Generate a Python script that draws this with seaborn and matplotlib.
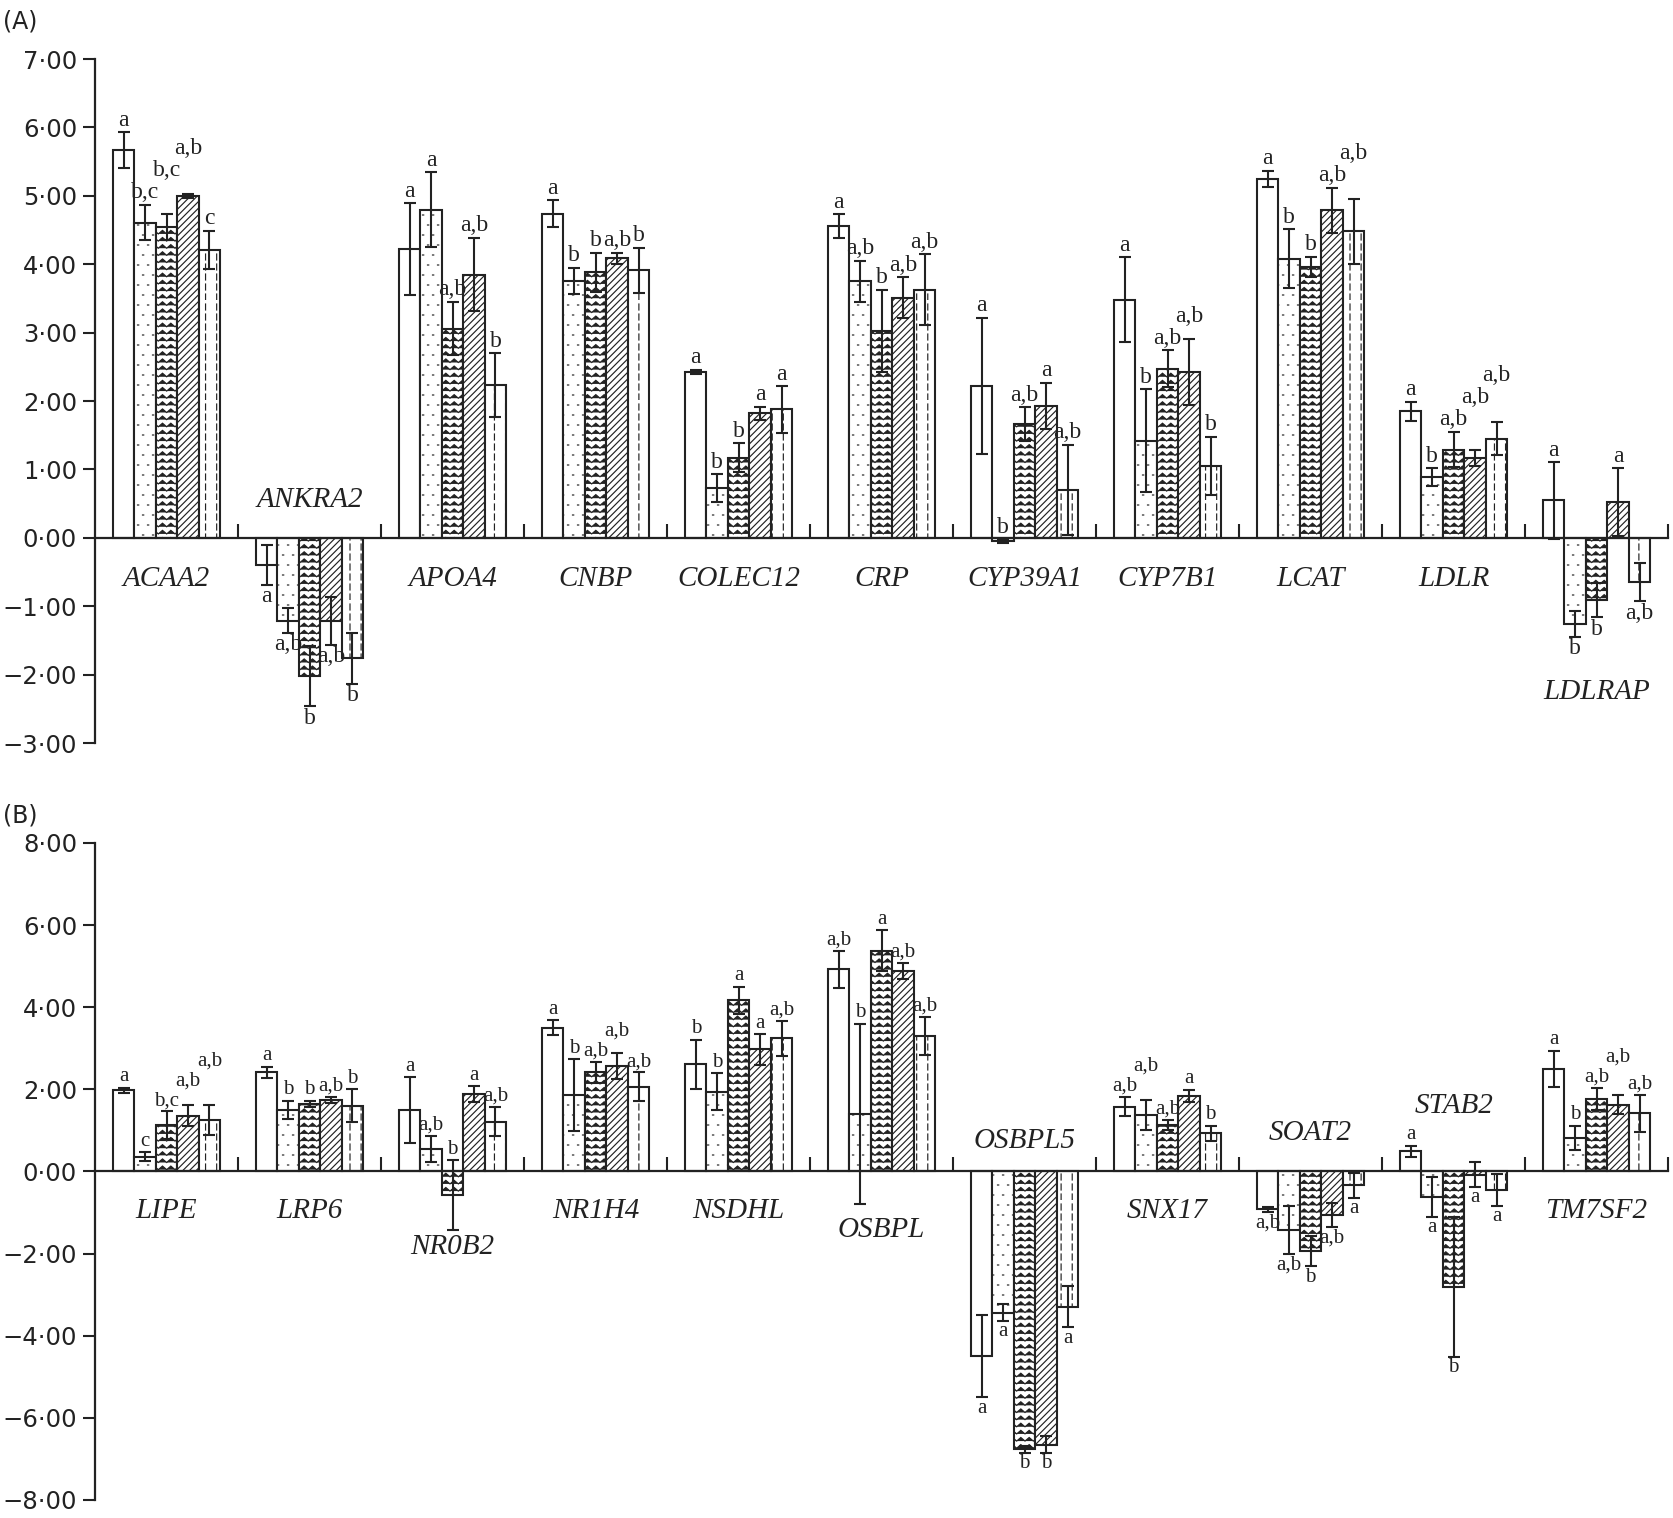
import warnings
import numpy as np
import pandas as pd
import matplotlib
matplotlib.use("Agg")
import matplotlib.pyplot as plt
import matplotlib.hatch as mhatch
from matplotlib.container import BarContainer
from matplotlib.path import Path
from matplotlib.ticker import FuncFormatter
import seaborn as sns

warnings.filterwarnings("ignore")

# ---------------- data ----------------
groups = ["G1", "G2", "G3", "G4", "G5"]

genes_a = ["ACAA2", "ANKRA2", "APOA4", "CNBP", "COLEC12", "CRP",
           "CYP39A1", "CYP7B1", "LCAT", "LDLR", "LDLRAP"]
mean_a = [
    [5.67, 4.61, 4.55, 5.00, 4.21],
    [-0.40, -1.21, -2.02, -1.21, -1.76],
    [4.22, 4.80, 3.06, 3.85, 2.23],
    [4.74, 3.76, 3.88, 4.09, 3.91],
    [2.43, 0.73, 1.17, 1.82, 1.88],
    [4.56, 3.75, 3.03, 3.51, 3.63],
    [2.22, -0.05, 1.66, 1.93, 0.70],
    [3.48, 1.42, 2.47, 2.42, 1.05],
    [5.25, 4.08, 3.96, 4.79, 4.48],
    [1.85, 0.89, 1.29, 1.17, 1.45],
    [0.55, -1.26, -0.91, 0.52, -0.65],
]
err_a = [
    [0.26, 0.26, 0.19, 0.03, 0.28],
    [0.29, 0.18, 0.44, 0.35, 0.37],
    [0.67, 0.55, 0.39, 0.54, 0.47],
    [0.20, 0.19, 0.29, 0.08, 0.33],
    [0.03, 0.20, 0.21, 0.10, 0.34],
    [0.17, 0.30, 0.60, 0.30, 0.52],
    [1.00, 0.03, 0.25, 0.34, 0.66],
    [0.62, 0.75, 0.27, 0.48, 0.43],
    [0.12, 0.43, 0.15, 0.33, 0.48],
    [0.14, 0.13, 0.26, 0.12, 0.24],
    [0.56, 0.19, 0.25, 0.50, 0.28],
]
letters_a = [
    ["a", "b,c", "b,c", "a,b", "c"],
    ["a", "a,b", "b", "a,b", "b"],
    ["a", "a", "a,b", "a,b", "b"],
    ["a", "b", "b", "a,b", "b"],
    ["a", "b", "b", "a", "a"],
    ["a", "a,b", "b", "a,b", "a,b"],
    ["a", "b", "a,b", "a", "a,b"],
    ["a", "b", "a,b", "a,b", "b"],
    ["a", "b", "b", "a,b", "a,b"],
    ["a", "b", "a,b", "a,b", "a,b"],
    ["a", "b", "b", "a", "a,b"],
]

genes_b = ["LIPE", "LRP6", "NR0B2", "NR1H4", "NSDHL", "OSBPL",
           "OSBPL5", "SNX17", "SOAT2", "STAB2", "TM7SF2"]
mean_b = [
    [1.98, 0.36, 1.12, 1.36, 1.26],
    [2.41, 1.50, 1.64, 1.74, 1.60],
    [1.50, 0.54, -0.57, 1.89, 1.21],
    [3.50, 1.86, 2.41, 2.57, 2.06],
    [2.61, 1.94, 4.17, 2.97, 3.24],
    [4.92, 1.40, 5.38, 4.88, 3.30],
    [-4.50, -3.44, -6.77, -6.65, -3.30],
    [1.58, 1.38, 1.13, 1.84, 0.93],
    [-0.92, -1.43, -1.94, -1.06, -0.34],
    [0.49, -0.62, -2.81, -0.08, -0.45],
    [2.50, 0.81, 1.77, 1.63, 1.42],
]
err_b = [
    [0.06, 0.11, 0.34, 0.25, 0.37],
    [0.14, 0.22, 0.08, 0.07, 0.40],
    [0.80, 0.32, 0.85, 0.19, 0.35],
    [0.18, 0.88, 0.26, 0.32, 0.35],
    [0.60, 0.45, 0.33, 0.37, 0.43],
    [0.46, 2.20, 0.49, 0.20, 0.46],
    [1.00, 0.20, 0.08, 0.20, 0.50],
    [0.24, 0.37, 0.12, 0.15, 0.18],
    [0.06, 0.58, 0.37, 0.30, 0.30],
    [0.14, 0.48, 1.70, 0.30, 0.38],
    [0.44, 0.30, 0.27, 0.23, 0.45],
]
letters_b = [
    ["a", "c", "b,c", "a,b", "a,b"],
    ["a", "b", "b", "a,b", "b"],
    ["a", "a,b", "b", "a", "a,b"],
    ["a", "b", "a,b", "a,b", "a,b"],
    ["b", "b", "a", "a", "a,b"],
    ["a,b", "b", "a", "a,b", "a,b"],
    ["a", "a", "b", "b", "a"],
    ["a,b", "a,b", "a,b", "a", "b"],
    ["a,b", "a,b", "b", "a,b", "a"],
    ["a", "a", "b", "a", "a"],
    ["a", "b", "a,b", "a,b", "a,b"],
]

# letters of negative bars that sit above the bar anyway
letters_above = {("CYP39A1", 1), ("NR0B2", 2)}


# ---------------- custom hatches ----------------
class ZigZagHatch(mhatch.HatchPatternBase):
    def __init__(self, hatch, density):
        self.rows = 14 * hatch.count("z")
        self.zigs = 12
        self.k = 2 * self.zigs + 1
        self.num_vertices = self.rows * self.k

    def set_vertices_and_codes(self, vertices, codes):
        xs = np.linspace(0, 1, self.k)
        amp = 0.25 / self.rows
        sign = np.where(np.arange(self.k) % 2 == 0, -1.0, 1.0)
        for r in range(self.rows):
            y0 = (r + 0.5) / self.rows
            s = slice(r * self.k, (r + 1) * self.k)
            vertices[s, 0] = xs
            vertices[s, 1] = y0 + amp * sign
            codes[s] = Path.LINETO
            codes[r * self.k] = Path.MOVETO


class DashHatch(mhatch.HatchPatternBase):
    # vertical dashed lines
    def __init__(self, hatch, density):
        self.cols = 9 * hatch.count("v")
        self.dashes = 10
        self.num_vertices = self.cols * self.dashes * 2

    def set_vertices_and_codes(self, vertices, codes):
        i = 0
        for c in range(self.cols):
            x = (c + 0.5) / self.cols
            for d in range(self.dashes):
                y0 = d / self.dashes
                vertices[i] = (x, y0)
                vertices[i + 1] = (x, y0 + 0.6 / self.dashes)
                codes[i] = Path.MOVETO
                codes[i + 1] = Path.LINETO
                i += 2


class DotHatch(mhatch.HatchPatternBase):
    # sparse staggered dots
    def __init__(self, hatch, density):
        self.cols = 10 * hatch.count("p")
        self.rows = 10 * hatch.count("p")
        self.num_vertices = self.cols * self.rows * 2

    def set_vertices_and_codes(self, vertices, codes):
        i = 0
        for r in range(self.rows):
            y = (r + 0.5) / self.rows
            off = 0.5 if r % 2 else 0.0
            for c in range(self.cols):
                x = ((c + off + 0.25) / self.cols) % 1.0
                vertices[i] = (x, y)
                vertices[i + 1] = (x + 0.012, y)
                codes[i] = Path.MOVETO
                codes[i + 1] = Path.LINETO
                i += 2


mhatch._hatch_types.extend([ZigZagHatch, DashHatch, DotHatch])
hatches = [None, "p", "z", "/////", "v"]

plt.rcParams["hatch.linewidth"] = 0.85
plt.rcParams["font.family"] = "DejaVu Sans"

ink = "#222222"


def fmt(v, pos):
    return f"{v:.2f}".replace(".", "·").replace("-", "−")


def draw_panel(ax, genes, means, errs, letters, ylim, yticks, label_y, letter_fs):
    df = pd.DataFrame(
        [(g, grp, means[i][j]) for i, g in enumerate(genes) for j, grp in enumerate(groups)],
        columns=["gene", "group", "value"],
    )
    sns.barplot(data=df, x="gene", y="value", hue="group", order=genes,
                hue_order=groups, palette=["white"] * 5, saturation=1,
                edgecolor=ink, linewidth=1.5, width=0.75, gap=0,
                errorbar=None, legend=False, ax=ax)

    notes = {}
    bar_sets = [c for c in ax.containers if isinstance(c, BarContainer)]
    for j, cont in enumerate(bar_sets):
        for i, p in enumerate(cont.patches):
            if hatches[j]:
                p.set_hatch(hatches[j])
            x = p.get_x() + p.get_width() / 2
            v, e = means[i][j], errs[i][j]
            ax.errorbar(x, v, yerr=e, fmt="none", ecolor=ink, elinewidth=1.5,
                        capsize=4, capthick=1.5, zorder=4)
            up = v >= 0 or (genes[i], j) in letters_above
            t = ax.annotate(letters[i][j], (x, v + e if up else v - e),
                            xytext=(0, 1 if up else -1), textcoords="offset points",
                            ha="center", va="bottom" if up else "top",
                            fontsize=letter_fs, family="Liberation Serif", color=ink)
            notes[(i, j)] = (t, up)

    for i, g in enumerate(genes):
        ax.text(i, label_y.get(g, label_y["_default"]), g, ha="center", va="center",
                fontsize=21, style="italic", family="Liberation Serif", color=ink)

    ax.set_xlim(-0.5, len(genes) - 0.5)
    ax.set_ylim(*ylim)
    ax.set_xlabel("")
    ax.set_ylabel("")
    for s in ["top", "right"]:
        ax.spines[s].set_visible(False)
    ax.spines["bottom"].set_position(("data", 0))
    ax.spines["bottom"].set_linewidth(1.6)
    ax.spines["left"].set_linewidth(1.6)
    ax.spines["bottom"].set_color(ink)
    ax.spines["left"].set_color(ink)
    ax.set_xticks(np.arange(len(genes)) + 0.5)
    ax.set_xticklabels([])
    ax.set_yticks(yticks)
    ax.yaxis.set_major_formatter(FuncFormatter(fmt))
    ax.tick_params(axis="x", direction="in", length=10, width=1.5, color=ink)
    ax.tick_params(axis="y", direction="out", length=9, width=1.5, color=ink,
                   labelsize=17.5, labelcolor=ink, pad=4)
    return notes


def stagger(fig, notes, n_genes):
    # nudge letters that collide with a neighbour in the same gene group
    fig.canvas.draw()
    r = fig.canvas.get_renderer()
    for i in range(n_genes):
        placed = []
        for j in range(len(groups)):
            t, up = notes[(i, j)]
            for _ in range(6):
                bb = t.get_window_extent(r)
                hit = [b for b in placed if bb.overlaps(b)]
                if not hit:
                    break
                b = hit[0]
                dy = (b.y1 - bb.y0 + 1) if up else -(bb.y1 - b.y0 + 1)
                ox, oy = t.xyann
                t.xyann = (ox, oy + dy * 72 / fig.dpi)
            placed.append(t.get_window_extent(r))


fig = plt.figure(figsize=(16.74, 15.18), dpi=100)
ax_a = fig.add_axes([0.0568, 0.5105, 0.9397, 0.4506])
ax_b = fig.add_axes([0.0568, 0.0119, 0.9397, 0.4328])

notes_a = draw_panel(ax_a, genes_a, mean_a, err_a, letters_a, (-3, 7), np.arange(-3, 8, 1),
                     {"_default": -0.6, "ANKRA2": 0.55, "LDLRAP": -2.25}, 17)
notes_b = draw_panel(ax_b, genes_b, mean_b, err_b, letters_b, (-8, 8), np.arange(-8, 9, 2),
                     {"_default": -0.96, "NR0B2": -1.85, "OSBPL": -1.42, "OSBPL5": 0.73,
                      "SOAT2": 0.94, "STAB2": 1.6}, 15)

fig.text(0.002, 0.986, "(A)", fontsize=17, va="center", ha="left", color=ink)
fig.text(0.002, 0.463, "(B)", fontsize=17, va="center", ha="left", color=ink)

stagger(fig, notes_a, len(genes_a))
stagger(fig, notes_b, len(genes_b))

fig.savefig("out.png", dpi=100)
